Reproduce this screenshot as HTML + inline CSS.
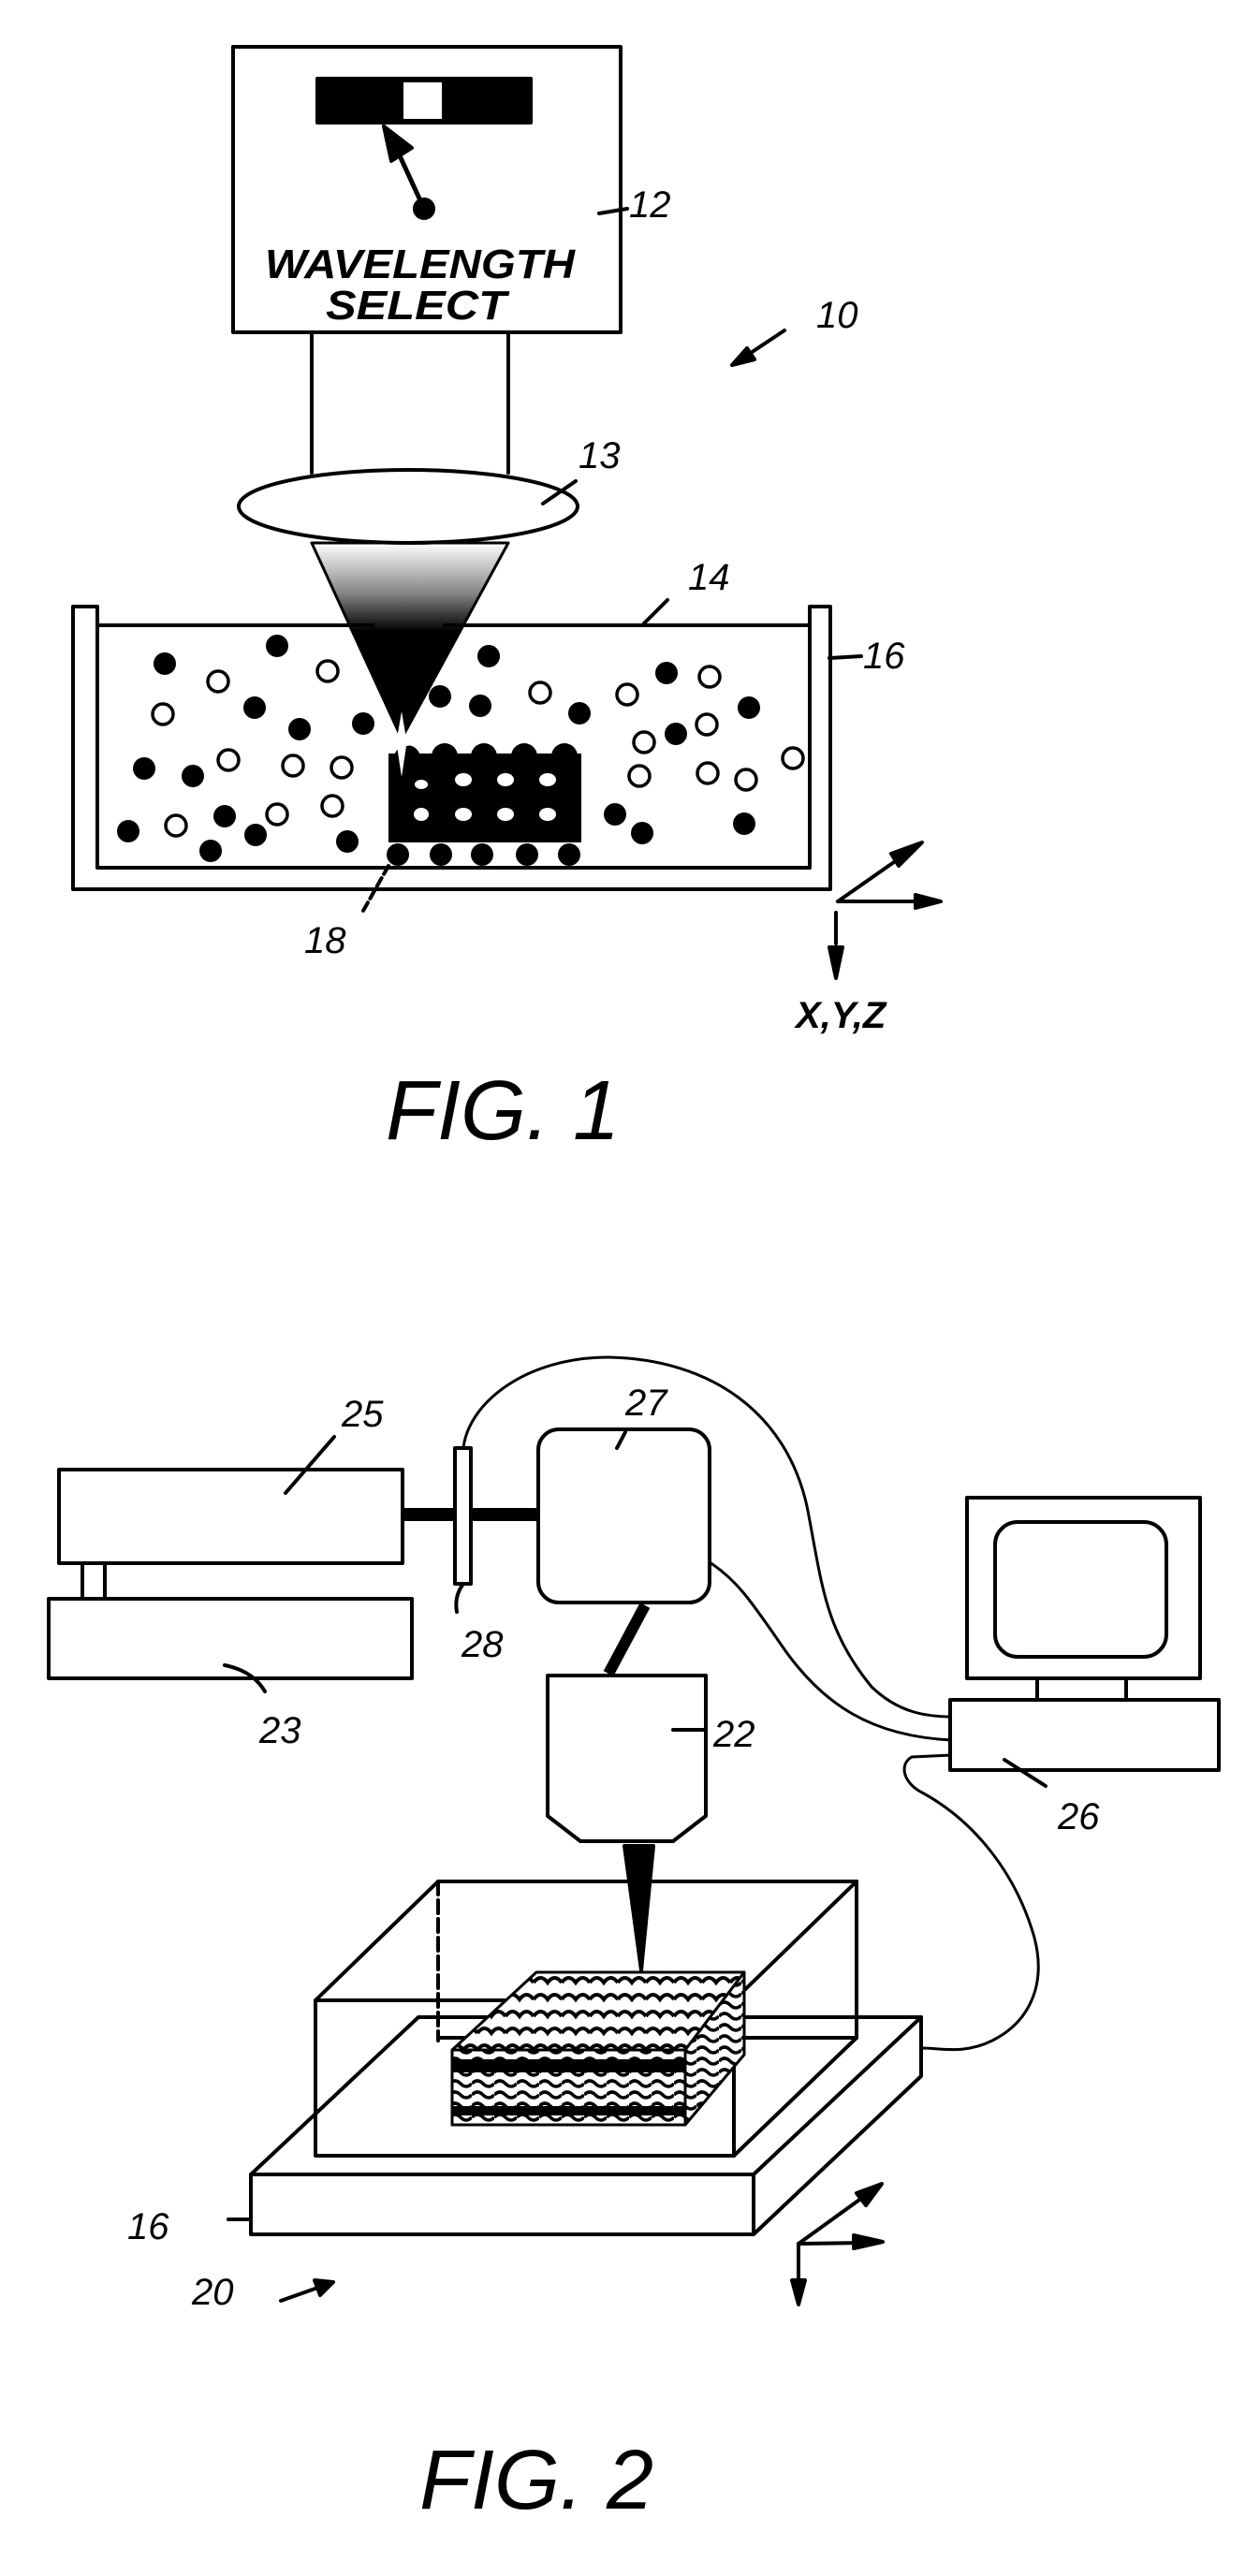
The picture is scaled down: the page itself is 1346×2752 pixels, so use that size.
<!DOCTYPE html>
<html><head><meta charset="utf-8"><style>
html,body{margin:0;padding:0;background:#fff}
svg{display:block}
text{font-family:"Liberation Sans",sans-serif;font-style:italic;fill:#000}
</style></head><body>
<svg width="1346" height="2752" viewBox="0 0 1346 2752" xmlns="http://www.w3.org/2000/svg">
<defs>
<linearGradient id="cone" x1="0" y1="580" x2="0" y2="790" gradientUnits="userSpaceOnUse">
<stop offset="0" stop-color="#fff"/><stop offset="0.25" stop-color="#888"/><stop offset="0.45" stop-color="#000"/><stop offset="1" stop-color="#000"/>
</linearGradient>
<pattern id="scal" width="30" height="18" patternUnits="userSpaceOnUse">
<rect width="30" height="18" fill="#fff"/>
<path d="M0,12 Q7.5,2 15,12 Q22.5,2 30,12" fill="none" stroke="#000" stroke-width="4"/>
</pattern>
<pattern id="wave" width="24" height="12" patternUnits="userSpaceOnUse">
<rect width="24" height="12" fill="#fff"/>
<path d="M0,6 Q6,0 12,6 Q18,12 24,6" fill="none" stroke="#000" stroke-width="3.5"/>
</pattern>
</defs>
<g fill="none" stroke="#000" stroke-width="4" stroke-linejoin="round" stroke-linecap="round">
<!-- FIG 1 -->
<rect x="249" y="50" width="414" height="305"/>
<rect x="339" y="84" width="228" height="47" fill="#000"/>
<rect x="431" y="88" width="41" height="39" fill="#fff" stroke="none"/>
<line x1="453" y1="223" x2="425" y2="162" stroke-width="5"/>
<polygon points="410,135 440,158 418,172" fill="#000"/>
<circle cx="453" cy="223" r="10" fill="#000"/>
<line x1="640" y1="228" x2="670" y2="223"/>
<line x1="333" y1="355" x2="333" y2="505"/>
<line x1="543" y1="355" x2="543" y2="505"/>
<polygon points="333,580 543,580 429,789" fill="url(#cone)" stroke-width="3"/>
<ellipse cx="436" cy="541" rx="181" ry="39" fill="#fff"/>
<line x1="580" y1="538" x2="615" y2="514"/>
<!-- tank -->
<path d="M78,648 L78,950 L887,950 L887,648 L865,648 L865,927 L104,927 L104,648 Z"/>
<line x1="104" y1="668" x2="398" y2="668"/>
<line x1="475" y1="668" x2="865" y2="668"/>
<line x1="688" y1="666" x2="713" y2="641"/>
<line x1="886" y1="703" x2="920" y2="701"/>
<!-- particles -->
<g fill="#000" stroke="none">
<circle cx="176" cy="709" r="12"/><circle cx="296" cy="690" r="12"/><circle cx="272" cy="756" r="12"/><circle cx="320" cy="779" r="12"/><circle cx="388" cy="773" r="12"/><circle cx="154" cy="821" r="12"/><circle cx="206" cy="829" r="12"/><circle cx="240" cy="872" r="12"/><circle cx="273" cy="892" r="12"/><circle cx="137" cy="888" r="12"/><circle cx="225" cy="909" r="12"/><circle cx="371" cy="899" r="12"/><circle cx="522" cy="701" r="12"/><circle cx="470" cy="744" r="12"/><circle cx="513" cy="754" r="12"/><circle cx="619" cy="762" r="12"/><circle cx="712" cy="719" r="12"/><circle cx="722" cy="784" r="12"/><circle cx="800" cy="756" r="12"/><circle cx="657" cy="870" r="12"/><circle cx="686" cy="890" r="12"/><circle cx="795" cy="880" r="12"/>
</g>
<g stroke-width="3.5" fill="#fff">
<circle cx="233" cy="728" r="11"/><circle cx="350" cy="717" r="11"/><circle cx="174" cy="763" r="11"/><circle cx="244" cy="812" r="11"/><circle cx="313" cy="818" r="11"/><circle cx="365" cy="820" r="11"/><circle cx="296" cy="870" r="11"/><circle cx="355" cy="861" r="11"/><circle cx="188" cy="882" r="11"/><circle cx="577" cy="740" r="11"/><circle cx="670" cy="742" r="11"/><circle cx="758" cy="723" r="11"/><circle cx="688" cy="793" r="11"/><circle cx="755" cy="774" r="11"/><circle cx="683" cy="829" r="11"/><circle cx="756" cy="826" r="11"/><circle cx="797" cy="833" r="11"/><circle cx="847" cy="810" r="11"/>
</g>
<!-- structure 18 -->
<g fill="#000" stroke="none">
<rect x="415" y="805" width="206" height="95"/>
<circle cx="435" cy="810" r="14"/><circle cx="475" cy="808" r="14"/><circle cx="517" cy="808" r="14"/><circle cx="560" cy="808" r="14"/><circle cx="603" cy="808" r="14"/>
<circle cx="425" cy="913" r="12"/><circle cx="471" cy="913" r="12"/><circle cx="515" cy="913" r="12"/><circle cx="563" cy="913" r="12"/><circle cx="608" cy="913" r="12"/>
</g>
<g fill="#fff" stroke="none">
<ellipse cx="495" cy="833" rx="9" ry="7"/><ellipse cx="540" cy="833" rx="9" ry="7"/><ellipse cx="585" cy="833" rx="9" ry="7"/><ellipse cx="450" cy="838" rx="7" ry="5"/>
<ellipse cx="450" cy="870" rx="8" ry="7"/><ellipse cx="495" cy="870" rx="9" ry="7"/><ellipse cx="540" cy="870" rx="9" ry="7"/><ellipse cx="585" cy="870" rx="9" ry="7"/>
<path d="M429,760 L434,789 L462,793 L434,797 L429,830 L424,797 L400,793 L424,789 Z"/>
</g>
<line x1="415" y1="925" x2="388" y2="973" stroke-dasharray="10,5"/>
<!-- axes fig1 -->
<line x1="895" y1="963" x2="975" y2="907" stroke-width="4"/>
<polygon points="985,900 960,925 952,912" fill="#000"/>
<line x1="895" y1="963" x2="990" y2="963"/>
<polygon points="1005,963 978,956 978,970" fill="#000"/>
<line x1="893" y1="975" x2="893" y2="1008"/>
<polygon points="893,1045 886,1012 900,1012" fill="#000"/>
<line x1="838" y1="353" x2="790" y2="385"/>
<polygon points="782,390 798,372 806,384" fill="#000"/>

<!-- FIG 2 -->
<rect x="63" y="1570" width="367" height="100"/>
<rect x="52" y="1708" width="388" height="85"/>
<rect x="88" y="1670" width="24" height="38"/>
<line x1="430" y1="1618" x2="577" y2="1618" stroke-width="14" stroke-linecap="butt"/>
<rect x="486" y="1547" width="17" height="145" fill="#fff"/>
<line x1="305" y1="1595" x2="357" y2="1535"/>
<path d="M495,1692 Q485,1705 488,1722"/>
<path d="M240,1779 Q270,1785 283,1807"/>
<rect x="575" y="1527" width="183" height="185" rx="22" fill="#fff"/>
<line x1="659" y1="1547" x2="668" y2="1530"/>
<line x1="689" y1="1715" x2="650" y2="1788" stroke-width="12" stroke-linecap="butt"/>
<path d="M585,1790 L754,1790 L754,1940 L719,1967 L620,1967 L585,1940 Z" fill="#fff"/>
<line x1="719" y1="1848" x2="754" y2="1848"/>
<polygon points="667,1972 698,1972 685,2105" fill="#000"/>
<!-- cables -->
<path d="M495,1547 C500,1500 560,1450 650,1450 C760,1452 840,1510 862,1609 C878,1690 880,1740 931,1802 C960,1830 990,1834 1017,1834" stroke-width="3"/>
<path d="M758,1669 C790,1690 805,1715 840,1765 C880,1820 930,1855 1017,1859" stroke-width="3"/>
<path d="M1017,1875 L974,1877 C960,1885 965,1905 985,1915 C1040,1945 1085,2000 1105,2070 C1118,2120 1100,2160 1060,2180 C1030,2195 1005,2188 985,2188" stroke-width="3"/>
<!-- monitor -->
<rect x="1033" y="1600" width="249" height="193"/>
<rect x="1063" y="1626" width="183" height="144" rx="24"/>
<line x1="1108" y1="1793" x2="1108" y2="1816"/>
<line x1="1203" y1="1793" x2="1203" y2="1816"/>
<rect x="1015" y="1816" width="287" height="75" fill="#fff"/>
<line x1="1073" y1="1880" x2="1117" y2="1908"/>
<!-- platform -->
<path d="M268,2323 L447,2155 L984,2155 L984,2218 L805,2387 L268,2387 Z" fill="#fff"/>
<line x1="268" y1="2323" x2="805" y2="2323"/>
<line x1="805" y1="2323" x2="984" y2="2155"/>
<line x1="805" y1="2323" x2="805" y2="2387"/>
<!-- tank -->
<line x1="468" y1="2010" x2="915" y2="2010"/>
<line x1="468" y1="2010" x2="468" y2="2180" stroke-dasharray="14,6"/>
<line x1="468" y1="2177" x2="915" y2="2177"/>
<line x1="915" y1="2010" x2="915" y2="2177"/>
<line x1="337" y1="2137" x2="468" y2="2010"/>
<line x1="784" y1="2137" x2="915" y2="2010"/>
<line x1="784" y1="2303" x2="915" y2="2177"/>
<rect x="337" y="2137" width="447" height="166"/>
<!-- structure -->
<polygon points="573,2107 795,2107 732,2190 483,2190" fill="url(#scal)" stroke-width="3"/>
<rect x="483" y="2190" width="249" height="80" fill="url(#wave)" stroke-width="3"/>
<rect x="483" y="2200" width="249" height="14" fill="#000" stroke="none"/>
<rect x="483" y="2250" width="249" height="10" fill="#000" stroke="none"/>
<polygon points="732,2190 795,2107 795,2195 732,2270" fill="url(#wave)" stroke-width="3"/>
<line x1="244" y1="2371" x2="266" y2="2371"/>
<line x1="300" y1="2458" x2="345" y2="2442"/>
<polygon points="356,2438 336,2436 342,2452" fill="#000"/>
<!-- axes fig2 -->
<line x1="853" y1="2397" x2="932" y2="2340"/>
<polygon points="942,2333 925,2356 915,2343" fill="#000"/>
<line x1="853" y1="2397" x2="925" y2="2396"/>
<polygon points="943,2395 912,2388 912,2402" fill="#000"/>
<line x1="853" y1="2397" x2="853" y2="2440"/>
<polygon points="853,2462 846,2436 860,2436" fill="#000"/>
</g>
<!-- labels -->
<text x="283" y="297" font-size="44" font-weight="bold" textLength="331" lengthAdjust="spacingAndGlyphs">WAVELENGTH</text>
<text x="348" y="341" font-size="44" font-weight="bold" textLength="193" lengthAdjust="spacingAndGlyphs">SELECT</text>
<text x="672" y="232" font-size="40">12</text>
<text x="872" y="350" font-size="40">10</text>
<text x="618" y="500" font-size="40">13</text>
<text x="735" y="630" font-size="40">14</text>
<text x="922" y="714" font-size="40">16</text>
<text x="325" y="1018" font-size="40">18</text>
<text x="850" y="1098" font-size="40" font-weight="bold">X,Y,Z</text>
<text x="412" y="1217" font-size="90">FIG. 1</text>
<text x="365" y="1524" font-size="40">25</text>
<text x="668" y="1512" font-size="40">27</text>
<text x="493" y="1770" font-size="40">28</text>
<text x="277" y="1862" font-size="40">23</text>
<text x="762" y="1866" font-size="40">22</text>
<text x="1130" y="1954" font-size="40">26</text>
<text x="136" y="2392" font-size="40">16</text>
<text x="205" y="2462" font-size="40">20</text>
<text x="448" y="2680" font-size="90">FIG. 2</text>
</svg>
</body></html>
